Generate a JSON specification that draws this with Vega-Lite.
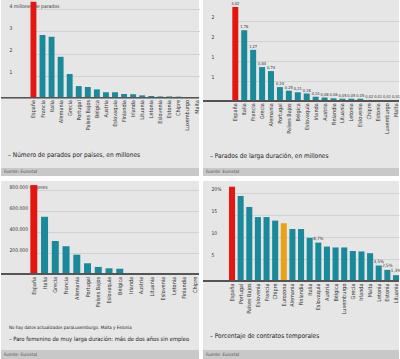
{
  "$schema": "https://vega.github.io/schema/vega-lite/v6.json",
  "padding": 0,
  "background": "white",
  "spacing": 2,
  "config": {
    "locale": {"number": {"decimal": ",", "thousands": ".", "grouping": [3], "currency": ["", " €"]}},
    "font": "Liberation Sans Narrow, DejaVu Sans Condensed, sans-serif",
    "view": {"stroke": null, "fill": "#e6e6e6"},
    "title": {"fontWeight": "normal", "color": "#1a1a1a", "anchor": "start", "frame": "group", "orient": "bottom", "fontSize": 6.5, "dx": 7},
    "axis": {"title": null, "ticks": false, "tickSize": 0, "domain": false},
    "axisY": {"orient": "left", "grid": true, "gridColor": "#d2d2d2", "labelAlign": "left", "labelPadding": -8, "labelBaseline": "bottom", "labelOffset": -1, "labelFontSize": 5, "labelColor": "#333"},
    "axisX": {"orient": "bottom", "labelAngle": -90, "labelPadding": 2, "labelFontSize": 5.5, "labelColor": "#333", "grid": false}
  },
  "datasets": {
    "p1": [
      {"pais": "España", "v": 4.35},
      {"pais": "Francia", "v": 2.84},
      {"pais": "Italia", "v": 2.76},
      {"pais": "Alemania", "v": 1.85},
      {"pais": "Grecia", "v": 1.07},
      {"pais": "Portugal", "v": 0.52},
      {"pais": "Países Bajos", "v": 0.48},
      {"pais": "Bélgica", "v": 0.37},
      {"pais": "Austria", "v": 0.24},
      {"pais": "Eslovaquia", "v": 0.24},
      {"pais": "Finlandia", "v": 0.16},
      {"pais": "Irlanda", "v": 0.15},
      {"pais": "Lituania", "v": 0.1},
      {"pais": "Letonia", "v": 0.07},
      {"pais": "Eslovenia", "v": 0.05},
      {"pais": "Estonia", "v": 0.05},
      {"pais": "Chipre", "v": 0.04},
      {"pais": "Luxemburgo", "v": 0.02},
      {"pais": "Malta", "v": 0.01}
    ],
    "p2": [
      {"pais": "España", "v": 3.02},
      {"pais": "Italia", "v": 1.76},
      {"pais": "Francia", "v": 1.27},
      {"pais": "Grecia", "v": 0.84},
      {"pais": "Alemania", "v": 0.74},
      {"pais": "Portugal", "v": 0.34},
      {"pais": "Países Bajos", "v": 0.25},
      {"pais": "Bélgica", "v": 0.21},
      {"pais": "Eslovaquia", "v": 0.18},
      {"pais": "Irlanda", "v": 0.1},
      {"pais": "Austria", "v": 0.08},
      {"pais": "Finlandia", "v": 0.06},
      {"pais": "Lituania", "v": 0.05},
      {"pais": "Letonia", "v": 0.05},
      {"pais": "Eslovenia", "v": 0.05},
      {"pais": "Chipre", "v": 0.02},
      {"pais": "Estonia", "v": 0.01},
      {"pais": "Luxemburgo", "v": 0.01},
      {"pais": "Malta", "v": 0.01}
    ],
    "p3": [
      {"pais": "España", "v": 850000},
      {"pais": "Italia", "v": 548000},
      {"pais": "Grecia", "v": 317000},
      {"pais": "Francia", "v": 267000},
      {"pais": "Alemania", "v": 187000},
      {"pais": "Portugal", "v": 105000},
      {"pais": "Países Bajos", "v": 70000},
      {"pais": "Eslovaquia", "v": 57000},
      {"pais": "Bélgica", "v": 53000},
      {"pais": "Irlanda", "v": 12000},
      {"pais": "Austria", "v": 10000},
      {"pais": "Lituania", "v": 10000},
      {"pais": "Eslovenia", "v": 10000},
      {"pais": "Letonia", "v": 9000},
      {"pais": "Finlandia", "v": 8000},
      {"pais": "Chipre", "v": 4000}
    ],
    "p4": [
      {"pais": "España", "v": 21.4, "etiqueta": ""},
      {"pais": "Portugal", "v": 19.3, "etiqueta": ""},
      {"pais": "Países Bajos", "v": 16.8, "etiqueta": ""},
      {"pais": "Eslovenia", "v": 14.5, "etiqueta": ""},
      {"pais": "Francia", "v": 14.5, "etiqueta": ""},
      {"pais": "Chipre", "v": 13.7, "etiqueta": ""},
      {"pais": "Eurozona", "v": 13.1, "etiqueta": ""},
      {"pais": "Alemania", "v": 11.8, "etiqueta": ""},
      {"pais": "Finlandia", "v": 11.8, "etiqueta": ""},
      {"pais": "Italia", "v": 9.8, "etiqueta": ""},
      {"pais": "Eslovaquia", "v": 8.7, "etiqueta": "8,7%"},
      {"pais": "Austria", "v": 7.8, "etiqueta": ""},
      {"pais": "Bélgica", "v": 7.6, "etiqueta": ""},
      {"pais": "Luxemburgo", "v": 7.6, "etiqueta": ""},
      {"pais": "Grecia", "v": 6.8, "etiqueta": ""},
      {"pais": "Irlanda", "v": 6.7, "etiqueta": ""},
      {"pais": "Malta", "v": 6.3, "etiqueta": ""},
      {"pais": "Letonia", "v": 3.5, "etiqueta": "3,5%"},
      {"pais": "Estonia", "v": 2.5, "etiqueta": "2,5%"},
      {"pais": "Lituania", "v": 1.3, "etiqueta": "1,3%"}
    ],
    "fuente": [{"t": "Fuente: Eurostat"}]
  },
  "hconcat": [
    {
      "spacing": 5,
      "vconcat": [
        {
          "spacing": 0,
          "vconcat": [
            {
              "width": 198,
              "height": 168,
              "data": {"name": "p1"},
              "title": {"text": "– Número de parados por países, en millones", "offset": -16},
              "layer": [
                {
                  "mark": {"type": "bar"},
                  "encoding": {
                    "x": {"field": "pais", "type": "nominal", "sort": null,
                      "scale": {"range": [29.5, 198.5], "paddingInner": 0.35, "paddingOuter": 0},
                      "axis": {"offset": -70.5}},
                    "y": {"field": "v", "type": "quantitative",
                      "scale": {"domain": [-3.2, 4.43], "nice": false, "zero": false},
                      "axis": {"values": [1, 2, 3, 4], "labelExpr": "datum.value == 4 ? '4 millones de parados' : datum.label"}},
                    "y2": {"datum": 0},
                    "color": {"condition": {"test": "datum.pais === 'España'", "value": "#e3170f"}, "value": "#1a8a9b"}
                  }
                },
                {
                  "mark": {"type": "rule", "color": "#555555", "strokeWidth": 1},
                  "encoding": {"y": {"datum": 0, "type": "quantitative"}}
                }
              ]
            },
            {
              "width": 198,
              "height": 8,
              "data": {"name": "fuente"},
              "view": {"fill": "#c8c8c8"},
              "mark": {"type": "text", "align": "left", "baseline": "middle", "fontSize": 4.5, "color": "#555", "dx": 3},
              "encoding": {
                "text": {"field": "t"},
                "x": {"datum": 0, "type": "quantitative", "scale": {"domain": [0, 1]}, "axis": null}
              }
            }
          ]
        },
        {
          "spacing": 0,
          "vconcat": [
            {
              "width": 198,
              "height": 169,
              "data": {"name": "p3"},
              "title": {"text": "No hay datos actualizados paraLuxemburgo, Malta y Estonia", "fontSize": 4.5, "offset": -25.5, "dx": 8,
                "subtitle": "– Paro femenino de muy larga duración: más de dos años sin empleo", "subtitleFontSize": 5.8, "subtitleColor": "#1a1a1a", "subtitlePadding": 7},
              "layer": [
                {
                  "mark": {"type": "bar"},
                  "encoding": {
                    "x": {"field": "pais", "type": "nominal", "sort": null,
                      "scale": {"range": [29.3, 197.5], "paddingInner": 0.35, "paddingOuter": 0},
                      "axis": {"offset": -75.7}},
                    "y": {"field": "v", "type": "quantitative",
                      "scale": {"domain": [-721000, 888600], "nice": false, "zero": false},
                      "axis": {"values": [200000, 400000, 600000, 800000], "labelExpr": "datum.value == 800000 ? '800.000 mujeres' : replace(format(datum.value, ','), ',', '.')"}},
                    "y2": {"datum": 0},
                    "color": {"condition": {"test": "datum.pais === 'España'", "value": "#e3170f"}, "value": "#1a8a9b"}
                  }
                },
                {
                  "mark": {"type": "rule", "color": "#555555", "strokeWidth": 1},
                  "encoding": {"y": {"datum": 0, "type": "quantitative"}}
                }
              ]
            },
            {
              "width": 198,
              "height": 9,
              "data": {"name": "fuente"},
              "view": {"fill": "#c8c8c8"},
              "mark": {"type": "text", "align": "left", "baseline": "middle", "fontSize": 4.5, "color": "#555", "dx": 3},
              "encoding": {
                "text": {"field": "t"},
                "x": {"datum": 0, "type": "quantitative", "scale": {"domain": [0, 1]}, "axis": null}
              }
            }
          ]
        }
      ]
    },
    {
      "spacing": 5,
      "vconcat": [
        {
          "spacing": 0,
          "vconcat": [
            {
              "width": 196,
              "height": 168,
              "data": {"name": "p2"},
              "title": {"text": "– Parados de larga duración, en millones", "offset": -15},
              "layer": [
                {
                  "mark": {"type": "bar"},
                  "encoding": {
                    "x": {"field": "pais", "type": "nominal", "sort": null,
                      "scale": {"range": [29.3, 196], "paddingInner": 0.33, "paddingOuter": 0},
                      "axis": {"offset": -67.2}},
                    "y": {"field": "v", "type": "quantitative",
                      "scale": {"domain": [-1.68, 2.34], "range": [168, 7], "nice": false, "zero": false, "clamp": true},
                      "axis": {"values": [0.5, 1, 1.5, 2], "format": ".0f"}},
                    "y2": {"datum": 0},
                    "color": {"condition": {"test": "datum.pais === 'España'", "value": "#e3170f"}, "value": "#1a8a9b"}
                  }
                },
                {
                  "mark": {"type": "text", "baseline": "bottom", "dy": -1, "fontSize": 4, "color": "#333"},
                  "encoding": {
                    "x": {"field": "pais", "type": "nominal", "sort": null},
                    "y": {"field": "v", "type": "quantitative"},
                    "text": {"field": "v", "type": "quantitative", "format": ".2f"}
                  }
                },
                {
                  "mark": {"type": "rule", "color": "#555555", "strokeWidth": 1},
                  "encoding": {"y": {"datum": 0, "type": "quantitative"}}
                }
              ]
            },
            {
              "width": 196,
              "height": 8,
              "data": {"name": "fuente"},
              "view": {"fill": "#c8c8c8"},
              "mark": {"type": "text", "align": "left", "baseline": "middle", "fontSize": 4.5, "color": "#555", "dx": 3},
              "encoding": {
                "text": {"field": "t"},
                "x": {"datum": 0, "type": "quantitative", "scale": {"domain": [0, 1]}, "axis": null}
              }
            }
          ]
        },
        {
          "spacing": 0,
          "vconcat": [
            {
              "width": 196,
              "height": 169,
              "data": {"name": "p4"},
              "title": {"text": "– Porcentaje de contratos temporales", "offset": -17},
              "layer": [
                {
                  "mark": {"type": "bar"},
                  "encoding": {
                    "x": {"field": "pais", "type": "nominal", "sort": null,
                      "scale": {"range": [26, 196], "paddingInner": 0.3, "paddingOuter": 0},
                      "axis": {"offset": -69}},
                    "y": {"field": "v", "type": "quantitative",
                      "scale": {"domain": [-15.7, 22.7], "nice": false, "zero": false},
                      "axis": {"values": [5, 10, 15, 20], "labelExpr": "datum.value == 20 ? '20%' : datum.label"}},
                    "y2": {"datum": 0},
                    "color": {"condition": [
                      {"test": "datum.pais === 'España'", "value": "#e3170f"},
                      {"test": "datum.pais === 'Eurozona'", "value": "#e9a215"}
                    ], "value": "#1a8a9b"}
                  }
                },
                {
                  "transform": [{"filter": "datum.etiqueta != ''"}],
                  "mark": {"type": "text", "baseline": "bottom", "dy": -2, "fontSize": 4.5, "color": "#333"},
                  "encoding": {
                    "x": {"field": "pais", "type": "nominal", "sort": null},
                    "y": {"field": "v", "type": "quantitative"},
                    "text": {"field": "etiqueta"}
                  }
                },
                {
                  "mark": {"type": "rule", "color": "#555555", "strokeWidth": 1},
                  "encoding": {"y": {"datum": 0, "type": "quantitative"}}
                }
              ]
            },
            {
              "width": 196,
              "height": 9,
              "data": {"name": "fuente"},
              "view": {"fill": "#c8c8c8"},
              "mark": {"type": "text", "align": "left", "baseline": "middle", "fontSize": 4.5, "color": "#555", "dx": 3},
              "encoding": {
                "text": {"field": "t"},
                "x": {"datum": 0, "type": "quantitative", "scale": {"domain": [0, 1]}, "axis": null}
              }
            }
          ]
        }
      ]
    }
  ]
}
